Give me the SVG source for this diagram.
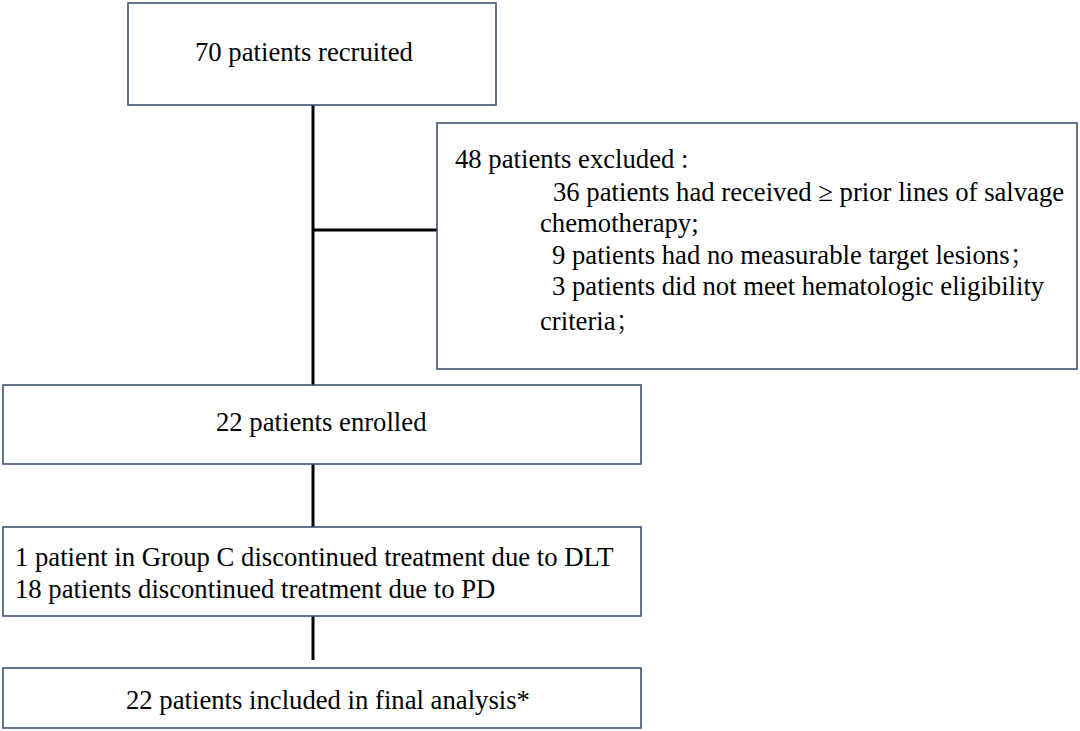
<svg xmlns="http://www.w3.org/2000/svg" width="1080" height="731" viewBox="0 0 1080 731">
  <style>
    .box { fill: #ffffff; stroke: #3f5170; stroke-width: 1.6; }
    .t { font-family: "Liberation Serif", "Noto Sans CJK SC", serif; font-size: 26.7px; fill: #000000; }
    .fw { font-family: "Noto Sans CJK SC", sans-serif; font-weight: 300; font-size: 24px; }
    .conn { stroke: #000000; stroke-width: 3; fill: none; }
  </style>
  <rect width="1080" height="731" fill="#ffffff"/>
  <g id="connectors">
    <line class="conn" x1="313" y1="105" x2="313" y2="385"/>
    <line class="conn" x1="313" y1="230" x2="437" y2="230"/>
    <line class="conn" x1="313" y1="464" x2="313" y2="527"/>
    <line class="conn" x1="313" y1="616" x2="313" y2="660"/>
  </g>
  <g id="recruited">
    <rect class="box" x="128" y="3" width="368" height="102"/>
    <text class="t" x="195" y="61">70 patients recruited</text>
  </g>
  <g id="excluded">
    <rect class="box" x="437" y="123" width="640" height="246"/>
    <text class="t" x="455" y="168">48 patients excluded :</text>
    <text class="t" x="553" y="201">36 patients had received ≥ prior lines of salvage</text>
    <text class="t" x="540" y="232">chemotherapy;</text>
    <text class="t" x="552" y="264">9 patients had no measurable target lesions<tspan class="fw">；</tspan></text>
    <text class="t" x="552" y="295">3 patients did not meet hematologic eligibility</text>
    <text class="t" x="540" y="330">criteria<tspan class="fw">；</tspan></text>
  </g>
  <g id="enrolled">
    <rect class="box" x="3" y="385" width="638" height="79"/>
    <text class="t" x="216" y="431">22 patients enrolled</text>
  </g>
  <g id="discontinued">
    <rect class="box" x="3" y="527" width="638" height="89"/>
    <text class="t" x="15" y="566">1 patient in Group C discontinued treatment due to DLT</text>
    <text class="t" x="15" y="598">18 patients discontinued treatment due to PD</text>
  </g>
  <g id="final">
    <rect class="box" x="3" y="668" width="638" height="60"/>
    <text class="t" x="126" y="709">22 patients included in final analysis*</text>
  </g>
</svg>
